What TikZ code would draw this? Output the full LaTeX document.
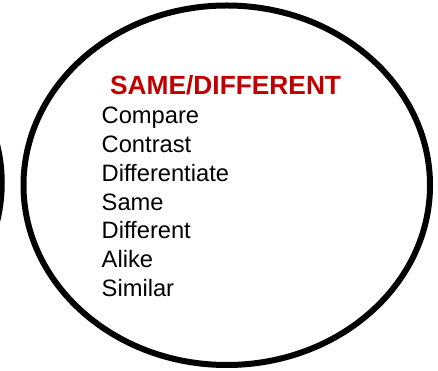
\documentclass[tikz,border=0pt]{standalone}
\usepackage{xcolor}
\usepackage{fontspec}
\setmainfont{Liberation Sans}
\usetikzlibrary{positioning}
\definecolor{titlered}{RGB}{192,0,0}

\begin{document}
\begin{tikzpicture}[x=1pt,y=1pt,node distance=28.7pt,
   word/.style={inner sep=0pt,font=\fontsize{23.7}{28.7}\selectfont},
   heading/.style={inner sep=0pt,text=titlered,font=\fontsize{26.3}{30}\selectfont\bfseries},
   ring/.style={draw,line width=6pt}]
   \useasboundingbox (0,0) rectangle (438,371);
   \clip (0,0) rectangle (438,371);
   % the two circles
   \coordinate (c0) at (226.75,185.75);
   \coordinate (c1) at (-201.5,188);
   \draw[ring] (c0) ellipse [x radius=203.25,y radius=179.75];
   \draw[ring] (c1) ellipse [x radius=203.25,y radius=179.75];
   % the list
   \node[heading,anchor=base west] (t) at (110,276) {SAME/DIFFERENT};
   \node[word,anchor=base west] (w1) at (101.5,247) {Compare};
   \node[word](w2) [below=of w1.base west,anchor=base west] {Contrast};
   \node[word](w3) [below=of w2.base west,anchor=base west] {Differentiate};
   \node[word](w4) [below=of w3.base west,anchor=base west] {Same};
   \node[word](w5) [below=of w4.base west,anchor=base west] {Different};
   \node[word](w6) [below=of w5.base west,anchor=base west] {Alike};
   \node[word](w7) [below=of w6.base west,anchor=base west] {Similar};
\end{tikzpicture}
\end{document}
